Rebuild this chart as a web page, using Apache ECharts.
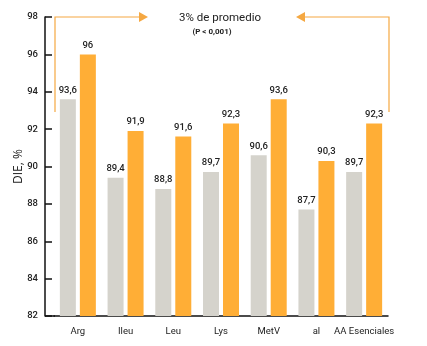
<!DOCTYPE html>
<html><head><meta charset="utf-8">
<script src="https://cdn.jsdelivr.net/npm/echarts@6/dist/echarts.min.js"></script>
<style>html,body{margin:0;padding:0;background:#fff}#c{width:427px;height:346px}</style>
</head><body><div id="c"></div>
<script>
const categories = ['Arg', 'Ileu', 'Leu', 'Lys', 'MetV', 'al', 'AA Esenciales'];
const greyValues = [93.6, 89.4, 88.8, 89.7, 90.6, 87.7, 89.7];
const orangeValues = [96, 91.9, 91.6, 92.3, 93.6, 90.3, 92.3];
const yTicks = [82, 84, 86, 88, 90, 92, 94, 96, 98];
const titleText = '3% de promedio';
const subText = '(P < 0,001)';

const FF = "Roboto, 'Open Sans', sans-serif";
const chart = echarts.init(document.getElementById('c'), null, {renderer: 'canvas'});
const fmt = p => String(p.value).replace('.', ',');
const labelStyle = {show: true, position: 'top', distance: 4, formatter: fmt, color: '#222', fontSize: 9.5, fontFamily: FF, fontWeight: 500};
const orange = '#ffae36', grey = '#d5d3cc', lineC = '#f5a842';
chart.setOption({
  animation: false,
  grid: {left: 54, right: 39, top: 17, bottom: 30},
  xAxis: {
    type: 'category', data: categories,
    axisLine: {lineStyle: {color: '#111', width: 1.5}},
    axisTick: {show: false},
    axisLabel: {interval: 0, color: '#222', fontSize: 9.5, fontFamily: FF, margin: 11}
  },
  yAxis: {
    type: 'value', min: yTicks[0], max: yTicks[yTicks.length - 1], interval: 2,
    offset: 9,
    name: 'DIE, %', nameLocation: 'middle', nameGap: 20, nameMoveOverlap: false,
    nameTextStyle: {fontSize: 12, color: '#222', fontFamily: "'Open Sans', sans-serif"},
    axisLine: {show: true, lineStyle: {color: '#111', width: 1.5}},
    axisTick: {show: true, inside: true, length: 7, lineStyle: {color: '#111', width: 1.5}},
    splitLine: {show: false},
    axisLabel: {color: '#222', fontSize: 9.5, fontFamily: FF, fontWeight: 500, margin: 7}
  },
  series: [
    {type: 'bar', data: greyValues, barWidth: 16, barGap: '25%', itemStyle: {color: grey}, label: labelStyle},
    {type: 'bar', data: orangeValues, barWidth: 16, itemStyle: {color: orange}, label: labelStyle}
  ],
  graphic: [
    {type: 'line', shape: {x1: 45, y1: 316, x2: 55, y2: 316}, style: {stroke: '#111', lineWidth: 1.5}},
    {type: 'polyline', shape: {points: [[55, 112], [55, 17], [140, 17]]}, style: {stroke: lineC, lineWidth: 1.2, fill: null}},
    {type: 'polygon', shape: {points: [[139, 12], [148, 17], [139, 22]]}, style: {fill: lineC}},
    {type: 'polyline', shape: {points: [[389, 112], [389, 17], [304, 17]]}, style: {stroke: lineC, lineWidth: 1.2, fill: null}},
    {type: 'polygon', shape: {points: [[305, 12], [296, 17], [305, 22]]}, style: {fill: lineC}},
    {type: 'text', x: 220, y: 18, style: {text: titleText, align: 'center', verticalAlign: 'middle', fontSize: 11.5, fontFamily: FF, fill: '#222'}},
    {type: 'text', x: 212, y: 32, style: {text: subText, align: 'center', verticalAlign: 'middle', fontSize: 8, fontFamily: FF, fontWeight: 'bold', fill: '#222'}}
  ]
});
</script></body></html>
